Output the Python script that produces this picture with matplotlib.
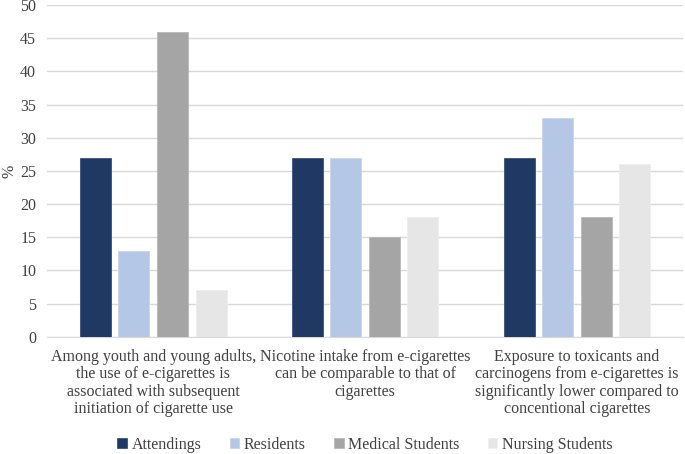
import matplotlib.pyplot as plt
import numpy as np

categories = [
    "Among youth and young adults,\nthe use of e-cigarettes is\nassociated with subsequent\ninitiation of cigarette use",
    "Nicotine intake from e-cigarettes\ncan be comparable to that of\ncigarettes",
    "Exposure to toxicants and\ncarcinogens from e-cigarettes is\nsignificantly lower compared to\nconcentional cigarettes",
]
series = ["Attendings", "Residents", "Medical Students", "Nursing Students"]
attendings = [27, 27, 27]
residents = [13, 27, 33]
medical = [46, 15, 18]
nursing = [7, 18, 26]

values = [attendings, residents, medical, nursing]
colors = ["#203864", "#B4C7E7", "#A5A5A5", "#E7E6E6"]
edges = ["#3A5280", "#C8D6EE", "#B8B8B8", "#EEEEEE"]

plt.rcParams['font.family'] = ['Liberation Serif', 'DejaVu Serif']

fig = plt.figure(figsize=(6.85, 4.54), dpi=100)
ax = fig.add_axes([0.069, 0.258, 0.928, 0.731])

x = np.arange(len(categories))
w = 0.146
step = 0.182
for i, (name, vals) in enumerate(zip(series, values)):
    ax.bar(x + (i - 1.5) * step, vals, width=w, color=colors[i],
           edgecolor=edges[i], linewidth=0.6, label=name, zorder=3)

ax.set_xlim(-0.5, 2.5)
ax.set_ylim(0, 50)
ax.set_yticks(range(0, 51, 5))
ax.yaxis.grid(True, color="#D9D9D9", linewidth=1, zorder=0)
for s in ["top", "right", "left"]:
    ax.spines[s].set_visible(False)
ax.spines["bottom"].set_color("#D9D9D9")
ax.tick_params(axis="both", length=0, labelsize=11.5, colors="#404040")
ax.tick_params(axis="y", pad=8)
ax.tick_params(axis="x", pad=8.5)
ax.set_xticks(x)
ax.set_xticklabels(categories, fontsize=11.5, color="#404040", linespacing=1.13)
ax.set_ylabel("%", fontsize=11.5, color="#404040", labelpad=2)

ax.legend(loc="upper center", bbox_to_anchor=(0.5, -0.258), ncol=4,
          frameon=False, fontsize=11.5, handlelength=0.6, handleheight=0.6,
          handletextpad=0.3, columnspacing=1.75, labelcolor="#404040")

fig.savefig("out.png", dpi=100)
